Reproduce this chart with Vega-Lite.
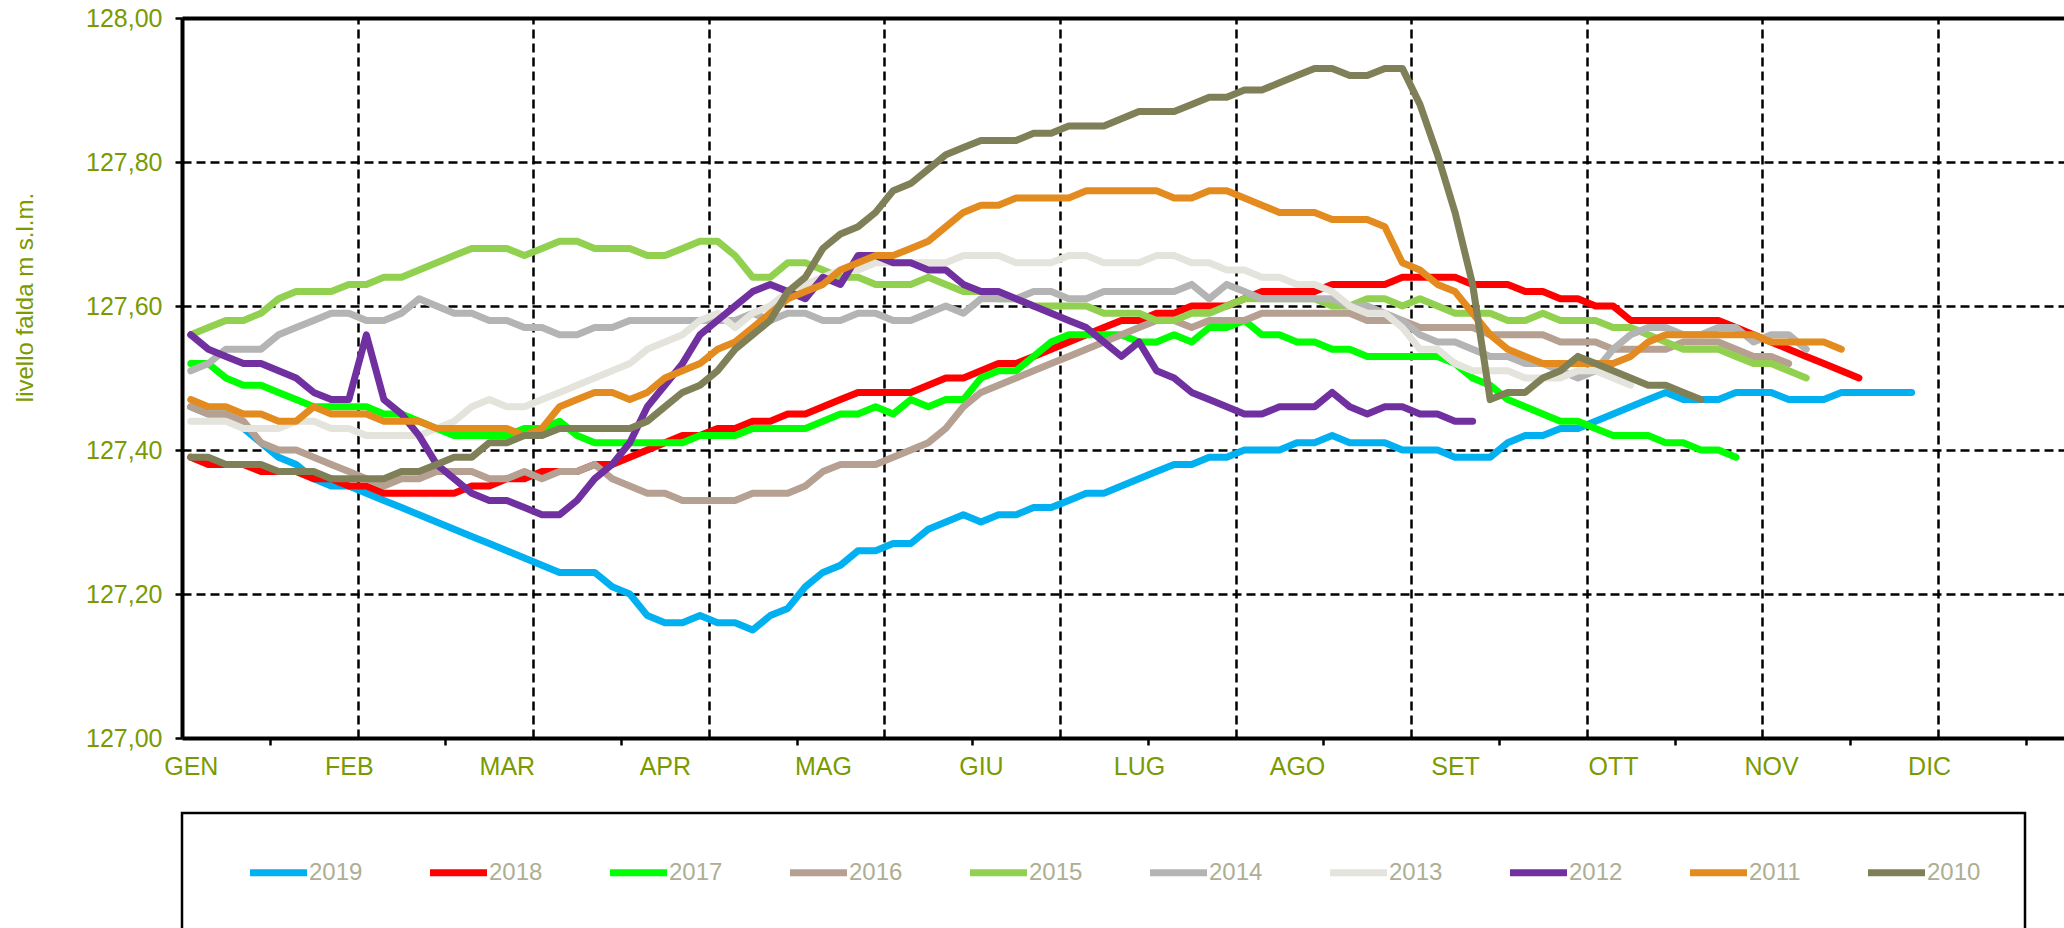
{
"$schema":"https://vega.github.io/schema/vega-lite/v6.json",
"width":1882,"height":720,
"autosize":"none",
"padding":{"left":182,"top":18,"right":0,"bottom":190},
"background":"white",
"config":{"view":{"stroke":null},"font":"Liberation Sans","legend":{"strokeWidth":2.5}},
"data":{"values":[
{"t":1,"2019":127.46,"2018":127.39,"2017":127.52,"2016":127.46,"2015":127.56,"2014":127.51,"2013":127.44,"2012":127.56,"2011":127.47,"2010":127.39},
{"t":2,"2019":127.45,"2018":127.38,"2017":127.52,"2016":127.45,"2015":127.57,"2014":127.52,"2013":127.44,"2012":127.54,"2011":127.46,"2010":127.39},
{"t":3,"2019":127.45,"2018":127.38,"2017":127.50,"2016":127.45,"2015":127.58,"2014":127.54,"2013":127.44,"2012":127.53,"2011":127.46,"2010":127.38},
{"t":4,"2019":127.43,"2018":127.38,"2017":127.49,"2016":127.44,"2015":127.58,"2014":127.54,"2013":127.43,"2012":127.52,"2011":127.45,"2010":127.38},
{"t":5,"2019":127.41,"2018":127.37,"2017":127.49,"2016":127.41,"2015":127.59,"2014":127.54,"2013":127.43,"2012":127.52,"2011":127.45,"2010":127.38},
{"t":6,"2019":127.39,"2018":127.37,"2017":127.48,"2016":127.40,"2015":127.61,"2014":127.56,"2013":127.43,"2012":127.51,"2011":127.44,"2010":127.37},
{"t":7,"2019":127.38,"2018":127.37,"2017":127.47,"2016":127.40,"2015":127.62,"2014":127.57,"2013":127.44,"2012":127.50,"2011":127.44,"2010":127.37},
{"t":8,"2019":127.36,"2018":127.36,"2017":127.46,"2016":127.39,"2015":127.62,"2014":127.58,"2013":127.44,"2012":127.48,"2011":127.46,"2010":127.37},
{"t":9,"2019":127.35,"2018":127.36,"2017":127.46,"2016":127.38,"2015":127.62,"2014":127.59,"2013":127.43,"2012":127.47,"2011":127.45,"2010":127.36},
{"t":10,"2019":127.35,"2018":127.35,"2017":127.46,"2016":127.37,"2015":127.63,"2014":127.59,"2013":127.43,"2012":127.47,"2011":127.45,"2010":127.36},
{"t":11,"2019":127.34,"2018":127.35,"2017":127.46,"2016":127.36,"2015":127.63,"2014":127.58,"2013":127.42,"2012":127.56,"2011":127.45,"2010":127.36},
{"t":12,"2019":127.33,"2018":127.34,"2017":127.45,"2016":127.35,"2015":127.64,"2014":127.58,"2013":127.42,"2012":127.47,"2011":127.44,"2010":127.36},
{"t":13,"2019":127.32,"2018":127.34,"2017":127.45,"2016":127.36,"2015":127.64,"2014":127.59,"2013":127.42,"2012":127.45,"2011":127.44,"2010":127.37},
{"t":14,"2019":127.31,"2018":127.34,"2017":127.44,"2016":127.36,"2015":127.65,"2014":127.61,"2013":127.42,"2012":127.42,"2011":127.44,"2010":127.37},
{"t":15,"2019":127.30,"2018":127.34,"2017":127.43,"2016":127.37,"2015":127.66,"2014":127.60,"2013":127.43,"2012":127.38,"2011":127.43,"2010":127.38},
{"t":16,"2019":127.29,"2018":127.34,"2017":127.42,"2016":127.37,"2015":127.67,"2014":127.59,"2013":127.44,"2012":127.36,"2011":127.43,"2010":127.39},
{"t":17,"2019":127.28,"2018":127.35,"2017":127.42,"2016":127.37,"2015":127.68,"2014":127.59,"2013":127.46,"2012":127.34,"2011":127.43,"2010":127.39},
{"t":18,"2019":127.27,"2018":127.35,"2017":127.42,"2016":127.36,"2015":127.68,"2014":127.58,"2013":127.47,"2012":127.33,"2011":127.43,"2010":127.41},
{"t":19,"2019":127.26,"2018":127.36,"2017":127.42,"2016":127.36,"2015":127.68,"2014":127.58,"2013":127.46,"2012":127.33,"2011":127.43,"2010":127.41},
{"t":20,"2019":127.25,"2018":127.36,"2017":127.43,"2016":127.37,"2015":127.67,"2014":127.57,"2013":127.46,"2012":127.32,"2011":127.42,"2010":127.42},
{"t":21,"2019":127.24,"2018":127.37,"2017":127.43,"2016":127.36,"2015":127.68,"2014":127.57,"2013":127.47,"2012":127.31,"2011":127.43,"2010":127.42},
{"t":22,"2019":127.23,"2018":127.37,"2017":127.44,"2016":127.37,"2015":127.69,"2014":127.56,"2013":127.48,"2012":127.31,"2011":127.46,"2010":127.43},
{"t":23,"2019":127.23,"2018":127.37,"2017":127.42,"2016":127.37,"2015":127.69,"2014":127.56,"2013":127.49,"2012":127.33,"2011":127.47,"2010":127.43},
{"t":24,"2019":127.23,"2018":127.38,"2017":127.41,"2016":127.38,"2015":127.68,"2014":127.57,"2013":127.50,"2012":127.36,"2011":127.48,"2010":127.43},
{"t":25,"2019":127.21,"2018":127.38,"2017":127.41,"2016":127.36,"2015":127.68,"2014":127.57,"2013":127.51,"2012":127.38,"2011":127.48,"2010":127.43},
{"t":26,"2019":127.20,"2018":127.39,"2017":127.41,"2016":127.35,"2015":127.68,"2014":127.58,"2013":127.52,"2012":127.41,"2011":127.47,"2010":127.43},
{"t":27,"2019":127.17,"2018":127.40,"2017":127.41,"2016":127.34,"2015":127.67,"2014":127.58,"2013":127.54,"2012":127.46,"2011":127.48,"2010":127.44},
{"t":28,"2019":127.16,"2018":127.41,"2017":127.41,"2016":127.34,"2015":127.67,"2014":127.58,"2013":127.55,"2012":127.49,"2011":127.50,"2010":127.46},
{"t":29,"2019":127.16,"2018":127.42,"2017":127.41,"2016":127.33,"2015":127.68,"2014":127.58,"2013":127.56,"2012":127.52,"2011":127.51,"2010":127.48},
{"t":30,"2019":127.17,"2018":127.42,"2017":127.42,"2016":127.33,"2015":127.69,"2014":127.58,"2013":127.58,"2012":127.56,"2011":127.52,"2010":127.49},
{"t":31,"2019":127.16,"2018":127.43,"2017":127.42,"2016":127.33,"2015":127.69,"2014":127.58,"2013":127.59,"2012":127.58,"2011":127.54,"2010":127.51},
{"t":32,"2019":127.16,"2018":127.43,"2017":127.42,"2016":127.33,"2015":127.67,"2014":127.58,"2013":127.57,"2012":127.60,"2011":127.55,"2010":127.54},
{"t":33,"2019":127.15,"2018":127.44,"2017":127.43,"2016":127.34,"2015":127.64,"2014":127.59,"2013":127.59,"2012":127.62,"2011":127.57,"2010":127.56},
{"t":34,"2019":127.17,"2018":127.44,"2017":127.43,"2016":127.34,"2015":127.64,"2014":127.58,"2013":127.60,"2012":127.63,"2011":127.59,"2010":127.58},
{"t":35,"2019":127.18,"2018":127.45,"2017":127.43,"2016":127.34,"2015":127.66,"2014":127.59,"2013":127.62,"2012":127.62,"2011":127.61,"2010":127.62},
{"t":36,"2019":127.21,"2018":127.45,"2017":127.43,"2016":127.35,"2015":127.66,"2014":127.59,"2013":127.63,"2012":127.61,"2011":127.62,"2010":127.64},
{"t":37,"2019":127.23,"2018":127.46,"2017":127.44,"2016":127.37,"2015":127.65,"2014":127.58,"2013":127.64,"2012":127.64,"2011":127.63,"2010":127.68},
{"t":38,"2019":127.24,"2018":127.47,"2017":127.45,"2016":127.38,"2015":127.64,"2014":127.58,"2013":127.65,"2012":127.63,"2011":127.65,"2010":127.70},
{"t":39,"2019":127.26,"2018":127.48,"2017":127.45,"2016":127.38,"2015":127.64,"2014":127.59,"2013":127.65,"2012":127.67,"2011":127.66,"2010":127.71},
{"t":40,"2019":127.26,"2018":127.48,"2017":127.46,"2016":127.38,"2015":127.63,"2014":127.59,"2013":127.66,"2012":127.67,"2011":127.67,"2010":127.73},
{"t":41,"2019":127.27,"2018":127.48,"2017":127.45,"2016":127.39,"2015":127.63,"2014":127.58,"2013":127.66,"2012":127.66,"2011":127.67,"2010":127.76},
{"t":42,"2019":127.27,"2018":127.48,"2017":127.47,"2016":127.40,"2015":127.63,"2014":127.58,"2013":127.66,"2012":127.66,"2011":127.68,"2010":127.77},
{"t":43,"2019":127.29,"2018":127.49,"2017":127.46,"2016":127.41,"2015":127.64,"2014":127.59,"2013":127.66,"2012":127.65,"2011":127.69,"2010":127.79},
{"t":44,"2019":127.30,"2018":127.50,"2017":127.47,"2016":127.43,"2015":127.63,"2014":127.60,"2013":127.66,"2012":127.65,"2011":127.71,"2010":127.81},
{"t":45,"2019":127.31,"2018":127.50,"2017":127.47,"2016":127.46,"2015":127.62,"2014":127.59,"2013":127.67,"2012":127.63,"2011":127.73,"2010":127.82},
{"t":46,"2019":127.30,"2018":127.51,"2017":127.50,"2016":127.48,"2015":127.62,"2014":127.61,"2013":127.67,"2012":127.62,"2011":127.74,"2010":127.83},
{"t":47,"2019":127.31,"2018":127.52,"2017":127.51,"2016":127.49,"2015":127.61,"2014":127.61,"2013":127.67,"2012":127.62,"2011":127.74,"2010":127.83},
{"t":48,"2019":127.31,"2018":127.52,"2017":127.51,"2016":127.50,"2015":127.61,"2014":127.61,"2013":127.66,"2012":127.61,"2011":127.75,"2010":127.83},
{"t":49,"2019":127.32,"2018":127.53,"2017":127.53,"2016":127.51,"2015":127.60,"2014":127.62,"2013":127.66,"2012":127.60,"2011":127.75,"2010":127.84},
{"t":50,"2019":127.32,"2018":127.54,"2017":127.55,"2016":127.52,"2015":127.60,"2014":127.62,"2013":127.66,"2012":127.59,"2011":127.75,"2010":127.84},
{"t":51,"2019":127.33,"2018":127.55,"2017":127.56,"2016":127.53,"2015":127.60,"2014":127.61,"2013":127.67,"2012":127.58,"2011":127.75,"2010":127.85},
{"t":52,"2019":127.34,"2018":127.56,"2017":127.56,"2016":127.54,"2015":127.60,"2014":127.61,"2013":127.67,"2012":127.57,"2011":127.76,"2010":127.85},
{"t":53,"2019":127.34,"2018":127.57,"2017":127.56,"2016":127.55,"2015":127.59,"2014":127.62,"2013":127.66,"2012":127.55,"2011":127.76,"2010":127.85},
{"t":54,"2019":127.35,"2018":127.58,"2017":127.56,"2016":127.56,"2015":127.59,"2014":127.62,"2013":127.66,"2012":127.53,"2011":127.76,"2010":127.86},
{"t":55,"2019":127.36,"2018":127.58,"2017":127.55,"2016":127.57,"2015":127.59,"2014":127.62,"2013":127.66,"2012":127.55,"2011":127.76,"2010":127.87},
{"t":56,"2019":127.37,"2018":127.59,"2017":127.55,"2016":127.58,"2015":127.58,"2014":127.62,"2013":127.67,"2012":127.51,"2011":127.76,"2010":127.87},
{"t":57,"2019":127.38,"2018":127.59,"2017":127.56,"2016":127.58,"2015":127.58,"2014":127.62,"2013":127.67,"2012":127.50,"2011":127.75,"2010":127.87},
{"t":58,"2019":127.38,"2018":127.60,"2017":127.55,"2016":127.57,"2015":127.59,"2014":127.63,"2013":127.66,"2012":127.48,"2011":127.75,"2010":127.88},
{"t":59,"2019":127.39,"2018":127.60,"2017":127.57,"2016":127.58,"2015":127.59,"2014":127.61,"2013":127.66,"2012":127.47,"2011":127.76,"2010":127.89},
{"t":60,"2019":127.39,"2018":127.60,"2017":127.57,"2016":127.58,"2015":127.60,"2014":127.63,"2013":127.65,"2012":127.46,"2011":127.76,"2010":127.89},
{"t":61,"2019":127.40,"2018":127.61,"2017":127.58,"2016":127.58,"2015":127.61,"2014":127.62,"2013":127.65,"2012":127.45,"2011":127.75,"2010":127.90},
{"t":62,"2019":127.40,"2018":127.62,"2017":127.56,"2016":127.59,"2015":127.61,"2014":127.61,"2013":127.64,"2012":127.45,"2011":127.74,"2010":127.90},
{"t":63,"2019":127.40,"2018":127.62,"2017":127.56,"2016":127.59,"2015":127.61,"2014":127.61,"2013":127.64,"2012":127.46,"2011":127.73,"2010":127.91},
{"t":64,"2019":127.41,"2018":127.62,"2017":127.55,"2016":127.59,"2015":127.61,"2014":127.61,"2013":127.63,"2012":127.46,"2011":127.73,"2010":127.92},
{"t":65,"2019":127.41,"2018":127.62,"2017":127.55,"2016":127.59,"2015":127.61,"2014":127.61,"2013":127.63,"2012":127.46,"2011":127.73,"2010":127.93},
{"t":66,"2019":127.42,"2018":127.63,"2017":127.54,"2016":127.59,"2015":127.60,"2014":127.61,"2013":127.62,"2012":127.48,"2011":127.72,"2010":127.93},
{"t":67,"2019":127.41,"2018":127.63,"2017":127.54,"2016":127.59,"2015":127.60,"2014":127.60,"2013":127.60,"2012":127.46,"2011":127.72,"2010":127.92},
{"t":68,"2019":127.41,"2018":127.63,"2017":127.53,"2016":127.58,"2015":127.61,"2014":127.60,"2013":127.59,"2012":127.45,"2011":127.72,"2010":127.92},
{"t":69,"2019":127.41,"2018":127.63,"2017":127.53,"2016":127.58,"2015":127.61,"2014":127.59,"2013":127.59,"2012":127.46,"2011":127.71,"2010":127.93},
{"t":70,"2019":127.40,"2018":127.64,"2017":127.53,"2016":127.58,"2015":127.60,"2014":127.58,"2013":127.57,"2012":127.46,"2011":127.66,"2010":127.93},
{"t":71,"2019":127.40,"2018":127.64,"2017":127.53,"2016":127.57,"2015":127.61,"2014":127.56,"2013":127.54,"2012":127.45,"2011":127.65,"2010":127.88},
{"t":72,"2019":127.40,"2018":127.64,"2017":127.53,"2016":127.57,"2015":127.60,"2014":127.55,"2013":127.54,"2012":127.45,"2011":127.63,"2010":127.81},
{"t":73,"2019":127.39,"2018":127.64,"2017":127.52,"2016":127.57,"2015":127.59,"2014":127.55,"2013":127.52,"2012":127.44,"2011":127.62,"2010":127.73},
{"t":74,"2019":127.39,"2018":127.63,"2017":127.50,"2016":127.57,"2015":127.59,"2014":127.54,"2013":127.51,"2012":127.44,"2011":127.59,"2010":127.63},
{"t":75,"2019":127.39,"2018":127.63,"2017":127.49,"2016":127.56,"2015":127.59,"2014":127.53,"2013":127.51,"2011":127.56,"2010":127.47},
{"t":76,"2019":127.41,"2018":127.63,"2017":127.47,"2016":127.56,"2015":127.58,"2014":127.53,"2013":127.51,"2011":127.54,"2010":127.48},
{"t":77,"2019":127.42,"2018":127.62,"2017":127.46,"2016":127.56,"2015":127.58,"2014":127.52,"2013":127.50,"2011":127.53,"2010":127.48},
{"t":78,"2019":127.42,"2018":127.62,"2017":127.45,"2016":127.56,"2015":127.59,"2014":127.52,"2013":127.50,"2011":127.52,"2010":127.50},
{"t":79,"2019":127.43,"2018":127.61,"2017":127.44,"2016":127.55,"2015":127.58,"2014":127.51,"2013":127.50,"2011":127.52,"2010":127.51},
{"t":80,"2019":127.43,"2018":127.61,"2017":127.44,"2016":127.55,"2015":127.58,"2014":127.50,"2013":127.51,"2011":127.52,"2010":127.53},
{"t":81,"2019":127.44,"2018":127.60,"2017":127.43,"2016":127.55,"2015":127.58,"2014":127.51,"2013":127.51,"2011":127.52,"2010":127.52},
{"t":82,"2019":127.45,"2018":127.60,"2017":127.42,"2016":127.54,"2015":127.57,"2014":127.54,"2013":127.50,"2011":127.52,"2010":127.51},
{"t":83,"2019":127.46,"2018":127.58,"2017":127.42,"2016":127.54,"2015":127.57,"2014":127.56,"2013":127.49,"2011":127.53,"2010":127.50},
{"t":84,"2019":127.47,"2018":127.58,"2017":127.42,"2016":127.54,"2015":127.56,"2014":127.57,"2011":127.55,"2010":127.49},
{"t":85,"2019":127.48,"2018":127.58,"2017":127.41,"2016":127.54,"2015":127.55,"2014":127.57,"2011":127.56,"2010":127.49},
{"t":86,"2019":127.47,"2018":127.58,"2017":127.41,"2016":127.55,"2015":127.54,"2014":127.56,"2011":127.56,"2010":127.48},
{"t":87,"2019":127.47,"2018":127.58,"2017":127.40,"2016":127.55,"2015":127.54,"2014":127.56,"2011":127.56,"2010":127.47},
{"t":88,"2019":127.47,"2018":127.58,"2017":127.40,"2016":127.55,"2015":127.54,"2014":127.57,"2011":127.56},
{"t":89,"2019":127.48,"2018":127.57,"2017":127.39,"2016":127.54,"2015":127.53,"2014":127.57,"2011":127.56},
{"t":90,"2019":127.48,"2018":127.56,"2016":127.53,"2015":127.52,"2014":127.55,"2011":127.56},
{"t":91,"2019":127.48,"2018":127.55,"2016":127.53,"2015":127.52,"2014":127.56,"2011":127.55},
{"t":92,"2019":127.47,"2018":127.54,"2016":127.52,"2015":127.51,"2014":127.56,"2011":127.55},
{"t":93,"2019":127.47,"2018":127.53,"2015":127.50,"2014":127.54,"2011":127.55},
{"t":94,"2019":127.47,"2018":127.52,"2011":127.55},
{"t":95,"2019":127.48,"2018":127.51,"2011":127.54},
{"t":96,"2019":127.48,"2018":127.50},
{"t":97,"2019":127.48},
{"t":98,"2019":127.48},
{"t":99,"2019":127.48}
]},
"transform":[
{"fold":["2019","2018","2017","2016","2015","2014","2013","2012","2011","2010"],"as":["anno","livello"]},
{"filter":"isValid(datum.livello)"}
],
"layer":[
{"mark":{"type":"point","opacity":0},
 "encoding":{"x":{"field":"t","type":"quantitative","scale":{"domain":[0.5,107.68],"nice":false,"zero":false},
   "axis":{"orient":"bottom","values":[10.5,20.5,30.5,40.5,50.5,60.5,70.5,80.5,90.5,100.5],"grid":true,"gridColor":"black","gridDash":[9,5],"gridWidth":2.5,"ticks":false,"labels":false,"domain":false,"title":null}}}},
{"mark":{"type":"point","opacity":0},
 "encoding":{"x":{"field":"t","type":"quantitative","scale":{"domain":[0.5,107.68],"nice":false,"zero":false},
   "axis":{"orient":"bottom","values":[5.5,15.5,25.5,35.5,45.5,55.5,65.5,75.5,85.5,95.5,105.5],"grid":false,"ticks":true,"tickSize":7,"tickWidth":2.5,"tickColor":"black","labels":false,"domain":false,"title":null}}}},
{"mark":{"type":"point","opacity":0},
 "encoding":{"x":{"field":"t","type":"quantitative","scale":{"domain":[0.5,107.68],"nice":false,"zero":false},
   "axis":{"orient":"top","grid":false,"ticks":false,"labels":false,"domain":true,"domainColor":"black","domainWidth":4,"title":null}}}},
{"mark":{"type":"line","strokeWidth":7,"strokeCap":"round","strokeJoin":"round"},
 "encoding":{
  "x":{"field":"t","type":"quantitative","scale":{"domain":[0.5,107.68],"nice":false,"zero":false},
   "axis":{"orient":"bottom","values":[1,10,19,28,37,46,55,64,73,82,91,100],"labelExpr":"['GEN','FEB','MAR','APR','MAG','GIU','LUG','AGO','SET','OTT','NOV','DIC'][round((datum.value-1)/9)]","grid":false,"ticks":false,"tickSize":0,"labelPadding":16,"labelFontSize":25,"labelColor":"#7a9a01","labelFont":"Liberation Sans","domain":true,"domainColor":"black","domainWidth":4,"title":null,"labelFlush":false,"labelOverlap":false}},
  "y":{"field":"livello","type":"quantitative","scale":{"domain":[127,128],"nice":false,"zero":false},
   "axis":{"values":[127,127.2,127.4,127.6,127.8,128],"labelExpr":"replace(format(datum.value,'.2f'),'.',',')","labelFontSize":25,"labelColor":"#7a9a01","labelFont":"Liberation Sans","labelPadding":13,"tickSize":7,"tickWidth":2.5,"tickColor":"black","domainColor":"black","domainWidth":4,"grid":true,"gridColor":"black","gridDash":[9,5],"gridWidth":2.5,"title":"livello falda m s.l.m.","titleFont":"Liberation Sans","titleFontSize":24,"titleFontWeight":"normal","titleColor":"#7a9a01","titleX":-157,"titleY":279,"titleAngle":270,"titleAlign":"center","titleBaseline":"middle","labelFlush":false,"labelOverlap":false}},
  "color":{"field":"anno","type":"nominal",
   "scale":{"domain":["2019","2018","2017","2016","2015","2014","2013","2012","2011","2010"],
     "range":["#00b0f0","#ff0000","#00ff00","#b6a092","#92d050","#b4b4b4","#e4e4dc","#7030a0","#e38b1e","#808058"]},
   "legend":{"orient":"none","legendX":0,"legendY":795,"direction":"horizontal","columns":10,"title":null,"symbolType":"M-2.375,0H2.375","symbolStrokeWidth":7,"symbolSize":576,"symbolOffset":37,"labelFontSize":24,"labelColor":"#aeae94","labelFont":"Liberation Sans","labelOffset":15,"columnPadding":43,"padding":44,"strokeColor":"black"}}
 }}
],
"resolve":{"axis":{"x":"independent"}}
}
